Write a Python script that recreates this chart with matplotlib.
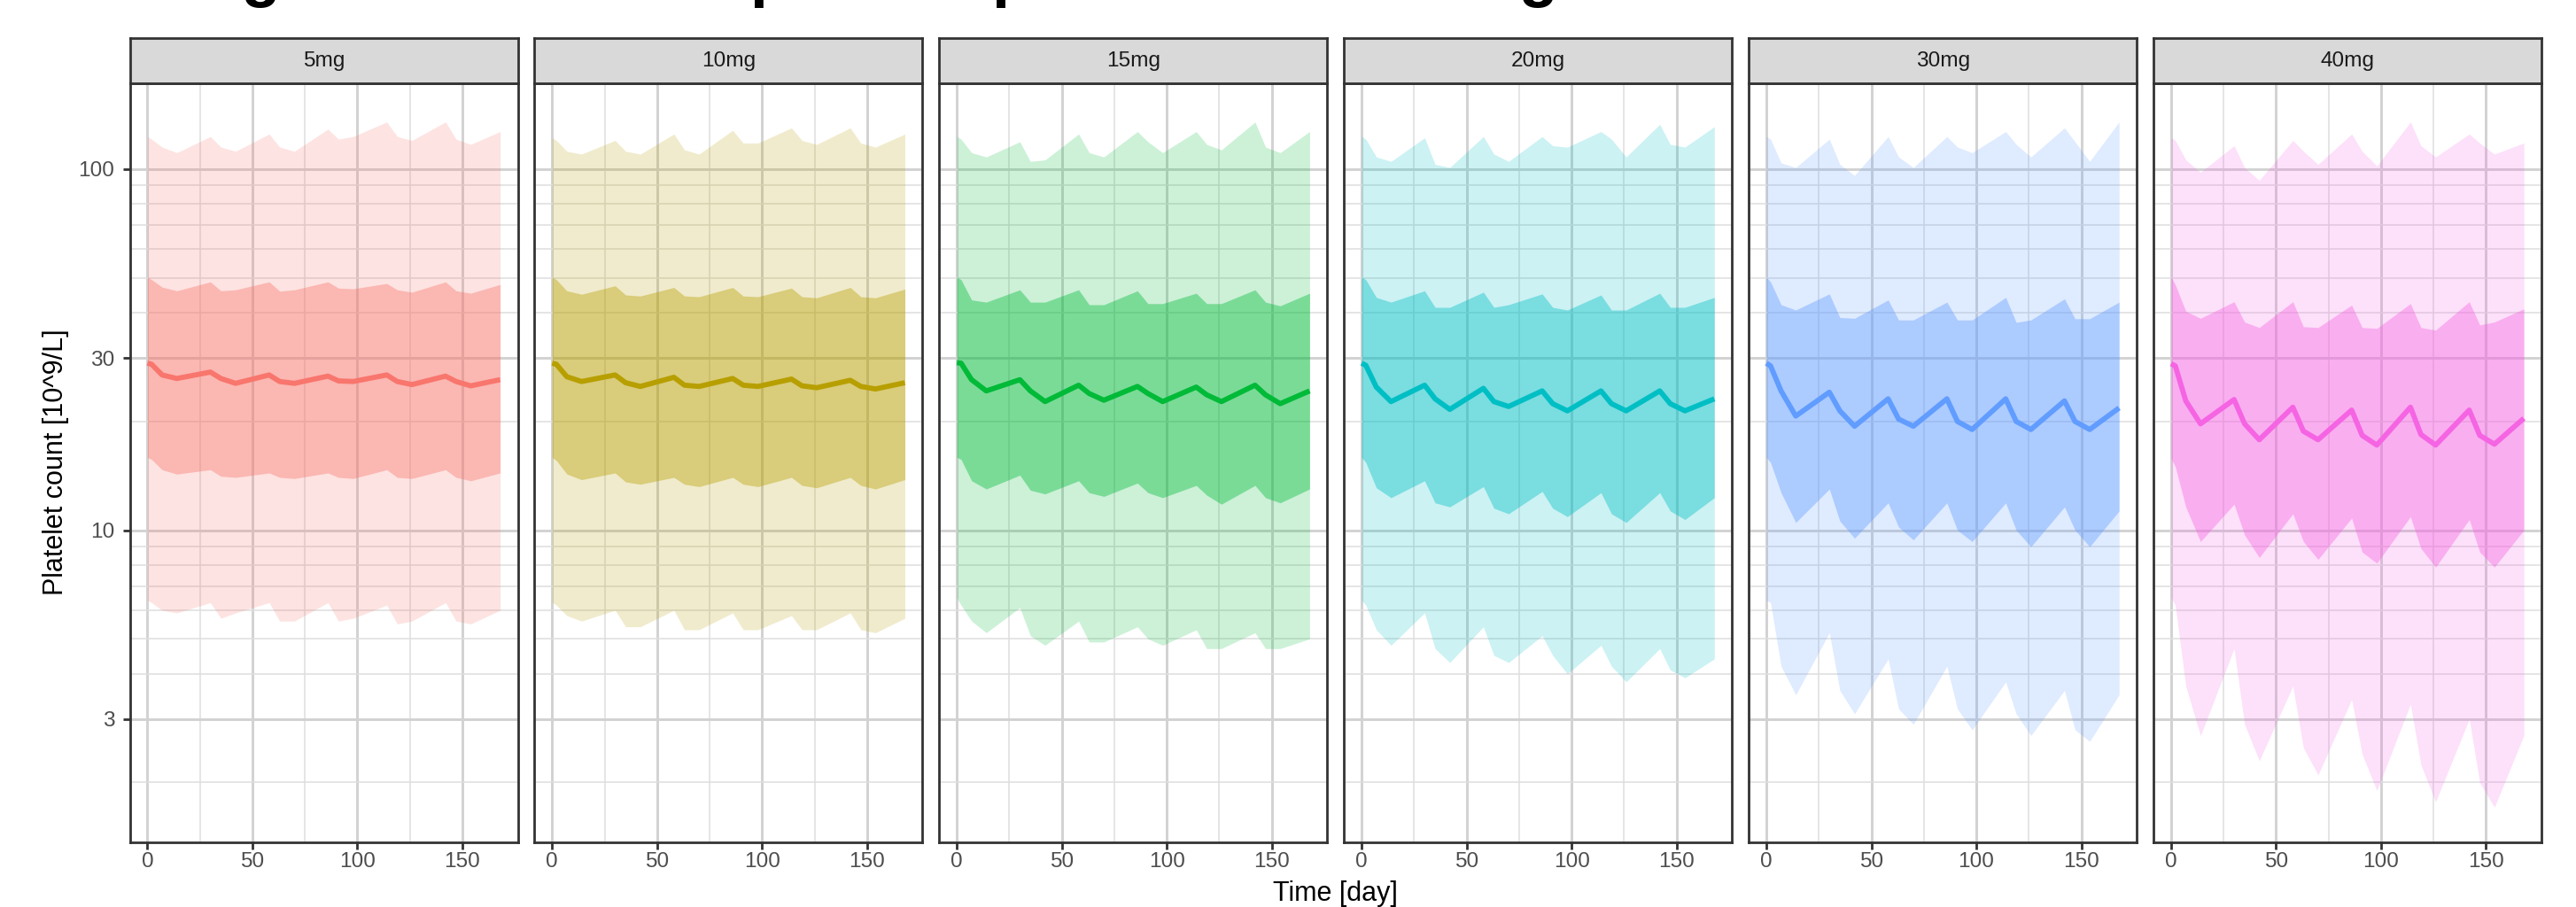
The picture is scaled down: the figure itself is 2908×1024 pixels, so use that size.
import numpy as np
import matplotlib
matplotlib.use('Agg')
import matplotlib.pyplot as plt
from matplotlib.ticker import FixedLocator, NullFormatter

plt.rcParams['font.family'] = ['Liberation Sans', 'DejaVu Sans']

doses = ['5mg', '10mg', '15mg', '20mg', '30mg', '40mg']
colors = ['#F8766D', '#B79F00', '#00BA38', '#00BFC4', '#619CFF', '#F564E3']
days = [0, 2, 7, 14, 30, 35, 42, 58, 63, 70, 86, 91, 98, 114, 119, 126, 142, 147, 154, 168]

# median platelet count per dose
median = [
    [29.0, 28.8, 26.9, 26.3, 27.4, 26.3, 25.5, 26.9, 25.8, 25.5, 26.7, 25.9, 25.8, 26.9, 25.8, 25.3, 26.7, 25.8, 25.1, 26.1],
    [29.0, 28.8, 26.6, 25.8, 26.9, 25.6, 25.0, 26.5, 25.2, 25.0, 26.3, 25.2, 25.0, 26.2, 25.1, 24.8, 26.0, 25.0, 24.6, 25.6],
    [29.1, 29.0, 26.1, 24.3, 26.1, 24.3, 22.7, 25.2, 23.9, 22.9, 25.0, 23.9, 22.7, 24.9, 23.7, 22.7, 25.2, 23.7, 22.4, 24.3],
    [29.0, 28.6, 24.9, 22.7, 25.2, 23.1, 21.6, 24.7, 22.7, 22.0, 24.3, 22.4, 21.4, 24.3, 22.4, 21.4, 24.3, 22.4, 21.4, 23.1],
    [29.0, 28.5, 24.3, 20.7, 24.1, 21.4, 19.4, 23.1, 20.3, 19.4, 23.1, 20.0, 19.0, 23.1, 20.0, 19.0, 22.8, 20.0, 19.0, 21.8],
    [28.9, 28.5, 22.8, 19.7, 23.0, 19.7, 17.8, 21.9, 18.8, 17.8, 21.5, 18.3, 17.2, 21.9, 18.4, 17.2, 21.5, 18.3, 17.3, 20.4],
]
# 25th / 75th percentiles
lo50 = [
    [15.9, 15.7, 14.7, 14.3, 14.7, 14.1, 14.0, 14.4, 14.0, 13.9, 14.4, 14.0, 13.9, 14.7, 14.0, 13.9, 14.7, 14.0, 13.7, 14.4],
    [15.9, 15.6, 14.3, 13.8, 14.4, 13.6, 13.4, 14.0, 13.4, 13.2, 14.0, 13.4, 13.2, 14.0, 13.3, 13.1, 14.0, 13.3, 13.0, 13.8],
    [15.9, 15.7, 13.7, 13.0, 14.2, 12.9, 12.6, 13.7, 12.7, 12.4, 13.5, 12.7, 12.3, 13.3, 12.5, 11.8, 13.3, 12.3, 11.9, 13.0],
    [15.9, 15.4, 13.1, 12.3, 13.7, 11.9, 11.6, 13.2, 11.5, 11.1, 12.8, 11.5, 10.9, 12.7, 11.1, 10.5, 12.7, 11.3, 10.7, 12.3],
    [15.9, 15.4, 12.7, 10.5, 13.0, 10.6, 9.5, 11.9, 10.2, 9.4, 11.9, 10.0, 9.3, 11.9, 10.0, 9.0, 11.6, 10.0, 9.0, 11.3],
    [15.8, 15.0, 11.6, 9.3, 11.8, 9.7, 8.4, 11.1, 9.3, 8.3, 10.8, 8.7, 8.1, 10.9, 8.9, 7.9, 10.7, 8.7, 7.9, 10.0],
]
hi50 = [
    [50.2, 49.4, 47.1, 46.0, 48.7, 46.0, 46.3, 48.7, 45.9, 46.3, 48.7, 46.8, 46.6, 48.2, 46.3, 45.6, 48.7, 46.0, 45.3, 47.9],
    [50.2, 49.4, 46.0, 45.0, 47.5, 44.8, 44.5, 47.0, 44.5, 44.3, 47.0, 44.5, 44.3, 46.8, 44.3, 44.0, 47.0, 44.3, 44.0, 46.5],
    [50.2, 49.4, 43.4, 42.8, 46.3, 42.8, 42.8, 46.3, 42.1, 42.1, 46.0, 42.4, 42.4, 45.3, 42.4, 42.4, 46.3, 42.8, 41.8, 45.3],
    [50.2, 49.4, 44.1, 42.8, 46.0, 41.4, 41.4, 45.6, 41.4, 42.1, 45.1, 41.4, 40.7, 44.8, 40.7, 40.7, 45.3, 41.4, 41.4, 44.1],
    [50.2, 48.7, 42.1, 40.7, 45.1, 38.8, 38.6, 43.4, 38.2, 38.2, 42.8, 38.2, 38.2, 44.1, 37.6, 38.2, 43.7, 38.5, 38.5, 42.8],
    [50.3, 47.8, 40.4, 38.6, 42.9, 37.7, 36.4, 42.9, 36.6, 36.4, 42.0, 36.4, 36.2, 42.4, 36.4, 35.8, 42.9, 37.0, 37.7, 41.0],
]
# 5th / 95th percentiles
lo90 = [
    [6.4, 6.3, 6.0, 5.9, 6.3, 5.7, 5.9, 6.3, 5.6, 5.6, 6.3, 5.6, 5.7, 6.2, 5.5, 5.6, 6.3, 5.6, 5.5, 6.0],
    [6.3, 6.2, 5.8, 5.6, 6.0, 5.4, 5.4, 6.0, 5.3, 5.3, 5.9, 5.3, 5.3, 5.8, 5.3, 5.3, 5.9, 5.3, 5.2, 5.7],
    [6.5, 6.2, 5.6, 5.2, 6.1, 5.1, 4.8, 5.6, 4.9, 4.9, 5.4, 5.0, 4.8, 5.3, 4.7, 4.7, 5.2, 4.7, 4.7, 5.0],
    [6.4, 6.2, 5.3, 4.8, 5.9, 4.7, 4.3, 5.4, 4.5, 4.3, 5.1, 4.5, 4.0, 4.8, 4.2, 3.8, 4.7, 4.1, 3.9, 4.4],
    [6.4, 6.3, 4.2, 3.5, 5.2, 3.6, 3.1, 4.4, 3.2, 2.9, 4.2, 3.2, 2.8, 3.8, 3.1, 2.7, 3.6, 2.8, 2.6, 3.5],
    [6.5, 6.2, 3.7, 2.7, 4.7, 2.9, 2.3, 3.7, 2.5, 2.1, 3.4, 2.4, 1.9, 3.3, 2.24, 1.77, 3.0, 2.0, 1.71, 2.7],
]
hi90 = [
    [123, 121, 115, 111, 123, 115, 112, 125, 115, 112, 129, 121, 123, 135, 123, 120, 135, 121, 117, 127],
    [122, 120, 112, 110, 120, 112, 110, 125, 113, 110, 128, 118, 118, 130, 120, 117, 130, 118, 115, 125],
    [123, 121, 111, 108, 119, 105, 106, 125, 111, 108, 127, 119, 111, 127, 117, 113, 135, 115, 111, 127],
    [123, 121, 108, 105, 122, 103, 101, 123, 110, 105, 123, 116, 115, 127, 121, 108, 133, 117, 115, 131],
    [123, 121, 104, 101, 121, 103, 96, 123, 108, 101, 123, 115, 111, 127, 117, 108, 130, 119, 105, 135],
    [122, 120, 106, 98, 116, 101, 93, 120, 112, 103, 125, 112, 102, 135, 116, 108, 125, 118, 110, 118],
]

W, H = 2908, 1024
fig = plt.figure(figsize=(W / 200, H / 200), dpi=200)

def fx(px):
    return px / W

def fy(px):
    return 1 - px / H

left0, pw, step = 146.5, 438, 456.9
top, bottom, strip_top = 94, 951, 43

for i, dose in enumerate(doses):
    x0 = left0 + i * step
    ax = fig.add_axes([fx(x0), fy(bottom), fx(pw), (bottom - top) / H])
    c = colors[i]
    ax.fill_between(days, lo90[i], hi90[i], color=c, alpha=0.2, lw=0)
    ax.fill_between(days, lo50[i], hi50[i], color=c, alpha=0.4, lw=0)
    ax.plot(days, median[i], color=c, lw=2.1, solid_capstyle='butt')

    ax.set_yscale('log')
    ax.set_ylim(1.366, 172.8)
    ax.set_xlim(-8.4, 176.4)
    ax.xaxis.set_major_locator(FixedLocator([0, 50, 100, 150]))
    ax.xaxis.set_minor_locator(FixedLocator([25, 75, 125]))
    ax.yaxis.set_major_locator(FixedLocator([3, 10, 30, 100]))
    ax.yaxis.set_minor_locator(FixedLocator([2, 4, 5, 6, 7, 8, 9, 20, 40, 50, 60, 70, 80, 90]))
    ax.yaxis.set_minor_formatter(NullFormatter())
    ax.set_xticklabels(['0', '50', '100', '150'])
    ax.tick_params(which='major', length=2.77, width=1.0, color='#333333',
                   labelsize=8.8, labelcolor='#4D4D4D')
    ax.tick_params(axis='x', which='major', pad=1.2)
    ax.tick_params(axis='y', which='major', pad=3.4)
    ax.tick_params(which='minor', length=0)
    if i == 0:
        ax.set_yticklabels(['3', '10', '30', '100'])
    else:
        ax.set_yticklabels([])
        ax.tick_params(axis='y', which='major', length=0)
    ax.set_axisbelow(True)
    ax.grid(True, which='major', color='#D2D2D2', lw=1.05)
    ax.grid(True, which='minor', color='#DEDEDE', lw=0.55)
    for s in ax.spines.values():
        s.set_color('#333333')
        s.set_linewidth(1.0)

    # facet strip
    sax = fig.add_axes([fx(x0), fy(top), fx(pw), (top - strip_top) / H])
    sax.set_facecolor('#D9D9D9')
    sax.set_xticks([])
    sax.set_yticks([])
    for s in sax.spines.values():
        s.set_color('#333333')
        s.set_linewidth(1.0)
    sax.text(0.5, 0.5, dose, ha='center', va='center', fontsize=8.8,
             color='#1A1A1A', transform=sax.transAxes)

fig.text(fx(180), 1 + 6 / H, 'Regimen: modeled platelet percentiles among dose levels',
         fontsize=26, fontweight='bold', va='baseline', ha='left')
fig.text(fx(63), fy(522), 'Platelet count [10^9/L]', rotation=90, fontsize=11,
         ha='center', va='center')
fig.text(fx(1507), fy(994), 'Time [day]', fontsize=11, ha='center', va='top')

fig.savefig('out.png', dpi=200, facecolor='white')
